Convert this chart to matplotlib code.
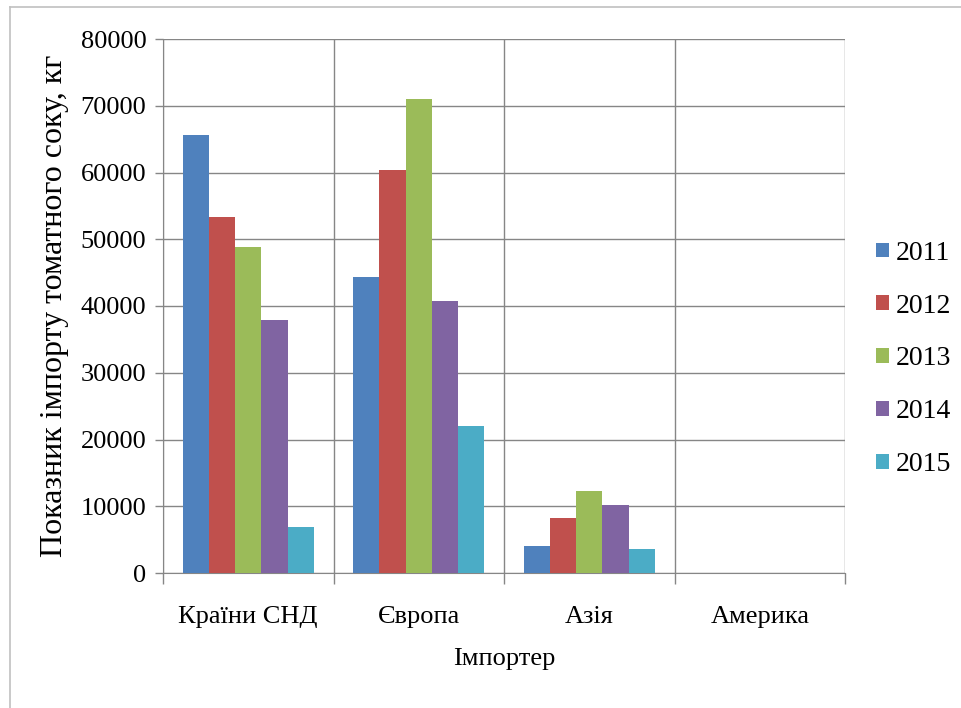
import numpy as np
import matplotlib
matplotlib.use("Agg")
import matplotlib.pyplot as plt
from matplotlib.lines import Line2D

categories = ["Країни СНД", "Європа", "Азія", "Америка"]
series_names = ["2011", "2012", "2013", "2014", "2015"]
v2011 = [65600, 44300, 4000, 0]
v2012 = [53300, 60400, 8300, 0]
v2013 = [48800, 71000, 12300, 0]
v2014 = [37900, 40700, 10200, 0]
v2015 = [6850, 21950, 3600, 0]
series_values = [v2011, v2012, v2013, v2014, v2015]
colors = ["#4f81bd", "#c0504d", "#9bbb59", "#8064a2", "#4bacc6"]
yticks = [0, 10000, 20000, 30000, 40000, 50000, 60000, 70000, 80000]

plt.rcParams['font.family'] = ['Liberation Serif', 'DejaVu Serif']

fig = plt.figure(figsize=(9.61, 7.08), dpi=100)
ax = fig.add_axes([163/961, 1-573/708, (845-163)/961, (573-39)/708])

n = len(series_names)
bw = 1/6.5
x = np.arange(len(categories))
for i, (name, vals, c) in enumerate(zip(series_names, series_values, colors)):
    ax.bar(x + (i - (n-1)/2)*bw, vals, width=bw, color=c, label=name, zorder=3)

ax.set_xlim(-0.5, len(categories)-0.5)
ax.set_ylim(0, 80000)
ax.set_yticks(yticks)
ax.set_yticklabels([str(t) for t in yticks], fontsize=19)
ax.set_xticks(x)
ax.set_xticklabels(categories, fontsize=19)
ax.tick_params(axis='x', length=0, pad=24)
ax.set_xticks(np.arange(len(categories)+1)-0.5, minor=True)
ax.tick_params(axis='x', which='minor', length=8, color='#868686', width=1)
ax.tick_params(axis='y', length=6, color='#868686', width=1, pad=6)

ax.grid(axis='y', color='#868686', linewidth=1, zorder=0)
ax.grid(axis='x', which='minor', color='#868686', linewidth=1, zorder=0)
ax.grid(axis='x', which='major', visible=False)
for s in ['top', 'right']:
    ax.spines[s].set_visible(False)
for s in ['left', 'bottom']:
    ax.spines[s].set_color('#868686')

ax.set_xlabel("Імпортер", fontsize=19, labelpad=14)
ax.set_ylabel("Показник імпорту томатного соку, кг", fontsize=23, labelpad=8)

leg = fig.legend(loc='center left', bbox_to_anchor=(876/961, 0.493), frameon=False,
                 fontsize=20, handlelength=0.45, handleheight=0.45, handletextpad=0.25,
                 labelspacing=1.0, borderpad=0, borderaxespad=0)

fig.add_artist(Line2D([10/961, 10/961], [0, 1-7/708], transform=fig.transFigure,
                      color='#c0c0c0', linewidth=1.2))
fig.add_artist(Line2D([10/961, 1], [1-7/708, 1-7/708], transform=fig.transFigure,
                      color='#c0c0c0', linewidth=1.2))

fig.savefig("out.png", dpi=100)
